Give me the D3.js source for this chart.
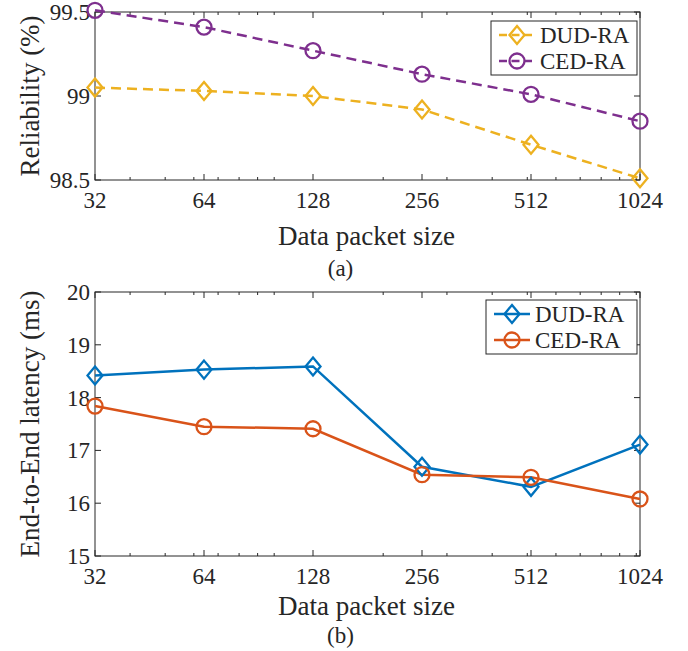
<!DOCTYPE html>
<html><head><meta charset="utf-8">
<script src="https://cdn.jsdelivr.net/npm/d3@7"></script>
<style>body{margin:0;background:#fff}svg{display:block}text{font-family:"Liberation Serif","Times New Roman",serif;fill:#262626}</style>
</head><body>
<svg id="c" width="688" height="651"></svg>
<script>
const packetSizes = [32, 64, 128, 256, 512, 1024];
const minorTicks = [40,50,60,70,80,90,100,200,300,400,500,600,700,800,900,1000];
const reliabilityDUD = [99.05, 99.03, 99.00, 98.92, 98.71, 98.51];
const reliabilityCED = [99.51, 99.41, 99.27, 99.13, 99.01, 98.85];
const latencyDUD = [18.42, 18.53, 18.59, 16.69, 16.31, 17.11];
const latencyCED = [17.84, 17.45, 17.41, 16.54, 16.49, 16.08];
const reliabilityTicks = [98.5, 99, 99.5];
const latencyTicks = [15, 16, 17, 18, 19, 20];
const seriesNames = ["DUD-RA", "CED-RA"];

const svg = d3.select("#c");
const axisColor = "#262626";

function panel(cfg) {
  const x = d3.scaleLog().base(2).domain([32, 1024]).range([cfg.left, cfg.right]);
  const y = d3.scaleLinear().domain(cfg.ydomain).range([cfg.bottom, cfg.top]);
  const g = svg.append("g");
  g.append("rect").attr("x", cfg.left).attr("y", cfg.top)
    .attr("width", cfg.right - cfg.left).attr("height", cfg.bottom - cfg.top)
    .attr("fill", "none").attr("stroke", axisColor).attr("stroke-width", 1);
  const tk = g.append("g").attr("stroke", axisColor).attr("stroke-width", 1);
  packetSizes.forEach(v => {
    tk.append("line").attr("x1", x(v)).attr("x2", x(v)).attr("y1", cfg.bottom).attr("y2", cfg.bottom - 6);
    tk.append("line").attr("x1", x(v)).attr("x2", x(v)).attr("y1", cfg.top).attr("y2", cfg.top + 6);
  });
  minorTicks.forEach(v => {
    tk.append("line").attr("x1", x(v)).attr("x2", x(v)).attr("y1", cfg.bottom).attr("y2", cfg.bottom - 3);
    tk.append("line").attr("x1", x(v)).attr("x2", x(v)).attr("y1", cfg.top).attr("y2", cfg.top + 3);
  });
  cfg.yticks.forEach(v => {
    tk.append("line").attr("x1", cfg.left).attr("x2", cfg.left + 6).attr("y1", y(v)).attr("y2", y(v));
    tk.append("line").attr("x1", cfg.right).attr("x2", cfg.right - 6).attr("y1", y(v)).attr("y2", y(v));
  });
  packetSizes.forEach(v => {
    g.append("text").attr("x", x(v)).attr("y", cfg.bottom + 28).attr("text-anchor", "middle")
      .attr("font-size", 23).text(v);
  });
  cfg.yticks.forEach(v => {
    g.append("text").attr("x", cfg.left - 5).attr("y", y(v) + 8).attr("text-anchor", "end")
      .attr("font-size", 23).text(d3.format("")(v));
  });
  g.append("text").attr("x", (cfg.left + cfg.right) / 2 - 1).attr("y", cfg.bottom + cfg.xlabOff)
    .attr("text-anchor", "middle").attr("font-size", 27).text("Data packet size");
  g.append("text").attr("transform", `translate(39,${(cfg.top + cfg.bottom) / 2}) rotate(-90)`)
    .attr("text-anchor", "middle").attr("font-size", 27).text(cfg.ylabel);
  g.append("text").attr("x", (cfg.left + cfg.right) / 2 - 27).attr("y", cfg.bottom + cfg.capOff)
    .attr("text-anchor", "middle").attr("font-size", 23).text(cfg.caption);

  const line = d3.line().x((d, i) => x(packetSizes[i])).y(d => y(d));
  const series = [
    { vals: cfg.s1, color: cfg.c1, marker: "diamond" },
    { vals: cfg.s2, color: cfg.c2, marker: "circle" }
  ];
  const plot = g.append("g");
  series.forEach(s => {
    plot.append("path").attr("d", line(s.vals)).attr("fill", "none")
      .attr("stroke", s.color).attr("stroke-width", 2.5)
      .attr("stroke-dasharray", cfg.dash ? "10,6" : null);
  });
  function drawMarker(sel, type, cx, cy, color) {
    if (type === "diamond") {
      sel.append("path").attr("d", `M${cx},${cy - 9}L${cx + 7.5},${cy}L${cx},${cy + 9}L${cx - 7.5},${cy}Z`)
        .attr("fill", "none").attr("stroke", color).attr("stroke-width", 2.3);
    } else {
      sel.append("circle").attr("cx", cx).attr("cy", cy).attr("r", 7.5)
        .attr("fill", "none").attr("stroke", color).attr("stroke-width", 2.3);
    }
  }
  series.forEach(s => {
    s.vals.forEach((v, i) => drawMarker(plot, s.marker, x(packetSizes[i]), y(v), s.color));
  });
  const L = cfg.legend;
  const lg = g.append("g");
  lg.append("rect").attr("x", L.x).attr("y", L.y).attr("width", L.w).attr("height", L.h)
    .attr("fill", "#fff").attr("stroke", axisColor).attr("stroke-width", 1);
  series.forEach((s, i) => {
    const cy = L.y + 14 + i * 26;
    lg.append("line").attr("x1", L.x + 8).attr("x2", L.x + 44).attr("y1", cy).attr("y2", cy)
      .attr("stroke", s.color).attr("stroke-width", 2.5)
      .attr("stroke-dasharray", cfg.dash ? "8,4.5" : null);
    drawMarker(lg, s.marker, L.x + 26, cy, s.color);
    lg.append("text").attr("x", L.x + 49).attr("y", cy + 8).attr("font-size", 23).text(seriesNames[i]);
  });
}

panel({ left: 95, right: 640, top: 12, bottom: 180, ydomain: [98.5, 99.5], yticks: reliabilityTicks,
  s1: reliabilityDUD, s2: reliabilityCED, c1: "#EDB120", c2: "#7E2F8E", dash: true,
  ylabel: "Reliability (%)", caption: "(a)", xlabOff: 65, capOff: 96,
  legend: { x: 491, y: 21, w: 146, h: 54 } });
panel({ left: 95, right: 640, top: 292, bottom: 556, ydomain: [15, 20], yticks: latencyTicks,
  s1: latencyDUD, s2: latencyCED, c1: "#0072BD", c2: "#D95319", dash: false,
  ylabel: "End-to-End latency (ms)", caption: "(b)", xlabOff: 59, capOff: 87,
  legend: { x: 486, y: 300, w: 151, h: 54 } });
</script>
</body></html>
